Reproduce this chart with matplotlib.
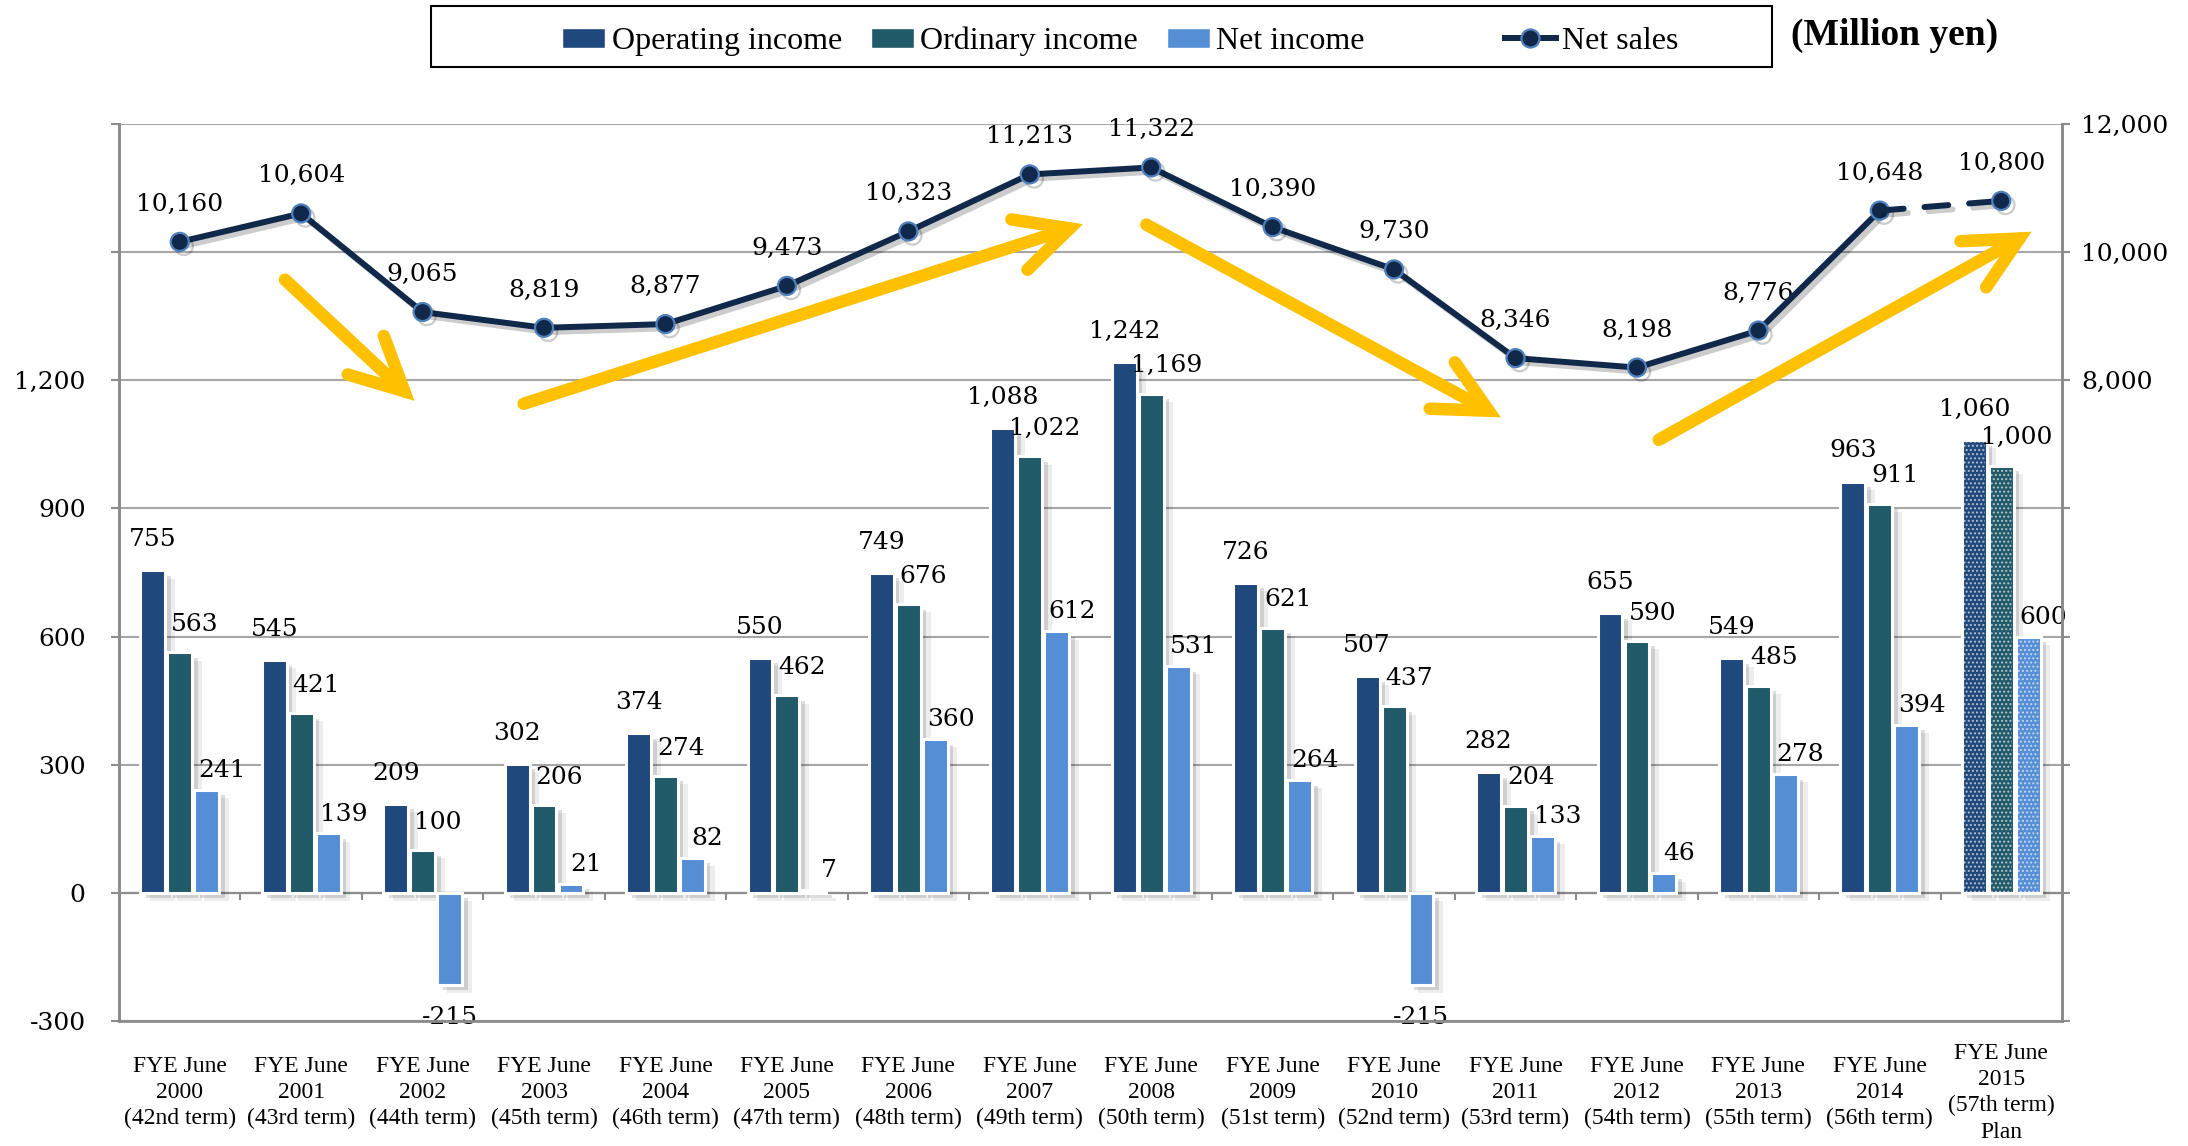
import matplotlib.pyplot as plt
import matplotlib.patheffects as pe
from matplotlib.patches import FancyArrowPatch, Rectangle, Patch
from matplotlib.lines import Line2D
import numpy as np

plt.rcParams['font.family'] = ['DejaVu Serif']

years = ["2000", "2001", "2002", "2003", "2004", "2005", "2006", "2007",
         "2008", "2009", "2010", "2011", "2012", "2013", "2014", "2015"]
terms = ["42nd", "43rd", "44th", "45th", "46th", "47th", "48th", "49th",
         "50th", "51st", "52nd", "53rd", "54th", "55th", "56th", "57th"]
operating = [755, 545, 209, 302, 374, 550, 749, 1088, 1242, 726, 507, 282, 655, 549, 963, 1060]
ordinary = [563, 421, 100, 206, 274, 462, 676, 1022, 1169, 621, 437, 204, 590, 485, 911, 1000]
net = [241, 139, -215, 21, 82, 7, 360, 612, 531, 264, -215, 133, 46, 278, 394, 600]
net_sales = [10160, 10604, 9065, 8819, 8877, 9473, 10323, 11213, 11322, 10390,
             9730, 8346, 8198, 8776, 10648, 10800]
# yellow trend arrows: (tail, head) in (category index, net sales) units
trend_arrows = [((0.85, 9600), (1.95, 7650)),
                ((2.81, 7620), (7.46, 10450)),
                ((7.94, 10450), (10.90, 7400)),
                ((12.16, 7050), (15.27, 10340))]

c_op = '#1F497D'
c_ord = '#215A68'
c_net = '#558ED5'
c_line = '#10284A'
c_grid = '#A6A6A6'

labels = []
for i, (y, t) in enumerate(zip(years, terms)):
    if i == len(years) - 1:
        labels.append("FYE June\n%s\n(%s term)\nPlan" % (y, t))
    else:
        labels.append("FYE June\n%s\n(%s term)" % (y, t))

fig = plt.figure(figsize=(21.88, 11.46), dpi=100)
ax = fig.add_axes([0.0544, 0.1091, 0.888, 0.7827])
ax2 = ax.twinx()

x = np.arange(len(years))
w = 0.205
step = 0.222
shadow = [pe.SimplePatchShadow(offset=(7, -6), shadow_rgbFace='k', alpha=0.07),
          pe.SimplePatchShadow(offset=(4, -4), shadow_rgbFace='k', alpha=0.13),
          pe.Normal()]

series = [(operating, c_op, -step), (ordinary, c_ord, 0), (net, c_net, step)]
for vals, col, off in series:
    ax.bar(x[:-1] + off, vals[:-1], w, color=col, edgecolor='white', linewidth=2.2,
           zorder=3, path_effects=shadow)
    # plan year: dotted fill
    ax.bar(x[-1] + off, vals[-1], w, color=col, edgecolor='white', linewidth=2.2,
           zorder=3, path_effects=shadow)
    ax.bar(x[-1] + off, vals[-1], w * 0.88, facecolor='none', edgecolor=(1, 1, 1, 0.6),
           hatch='....', linewidth=0, zorder=4)

# bar value labels
for i in range(len(x)):
    ax.annotate(f"{operating[i]:,}", (x[i] - step, operating[i]), xytext=(0, 22),
                textcoords='offset points', ha='center', va='center', fontsize=18, zorder=6)
    ax.annotate(f"{ordinary[i]:,}", (x[i], ordinary[i]), xytext=(11, 20),
                textcoords='offset points', ha='center', va='center', fontsize=18, zorder=6)
    if net[i] < 0:
        ax.annotate(f"{net[i]:,}", (x[i] + step, net[i]), xytext=(0, -24),
                    textcoords='offset points', ha='center', va='center', fontsize=18, zorder=6)
    else:
        ax.annotate(f"{net[i]:,}", (x[i] + step, net[i]), xytext=(11, 14),
                    textcoords='offset points', ha='center', va='center', fontsize=18, zorder=6)

ax.set_xlim(-0.5, len(x) - 0.5)
ax.set_ylim(-300, 1800)
left_ticks = np.arange(-300, 1801, 300)
ax.set_yticks(left_ticks)
ax.set_yticklabels([f"{v:,}" if v <= 1200 else "" for v in left_ticks])
ax.grid(axis='y', color=c_grid, lw=1.5, zorder=0)
ax.axhline(0, color='#8C8C8C', lw=1.6, zorder=2)
ax.vlines(x[:-1] + 0.5, -16, 0, color='#8C8C8C', lw=1.5, zorder=2)
ax.set_xticks([])
ax.tick_params(axis='y', length=6, width=1.5, color='#8C8C8C', labelsize=18, pad=18)

ax2.set_ylim(-2000, 12000)
right_ticks = np.arange(-2000, 12001, 2000)
ax2.set_yticks(right_ticks)
ax2.set_yticklabels([f"{v:,}" if v >= 8000 else "" for v in right_ticks])
ax2.tick_params(axis='y', length=6, width=1.5, color='#8C8C8C', labelsize=18, pad=8)

for a in (ax, ax2):
    for s in a.spines.values():
        s.set_color('#8C8C8C')
        s.set_linewidth(2)
    a.spines['top'].set_visible(False)
ax.spines['bottom'].set_color(c_grid)
ax.spines['bottom'].set_linewidth(1.5)

# net sales line
line_fx = [pe.SimpleLineShadow(offset=(3, -3), alpha=0.2), pe.Normal()]
ax2.plot(x[:-1], net_sales[:-1], color=c_line, lw=4.3, marker='o', ms=13,
         mfc=c_line, mec='#4F81BD', mew=1.6, zorder=5, path_effects=line_fx)
ax2.plot(x[-2:], net_sales[-2:], color=c_line, lw=4.3, dashes=(4, 3.5),
         dash_capstyle='round', marker='o', ms=13, markevery=[1],
         mfc=c_line, mec='#4F81BD', mew=1.6, zorder=5, path_effects=line_fx)
for i in range(len(x)):
    ax2.annotate(f"{net_sales[i]:,}", (x[i], net_sales[i]), xytext=(0, 27),
                 textcoords='offset points', ha='center', va='center', fontsize=18)

for tail, head in trend_arrows:
    arr = FancyArrowPatch(tail, head, arrowstyle='->,head_length=1.9,head_width=0.95',
                          mutation_scale=20, color='#FFC000', lw=9,
                          capstyle='round', joinstyle='miter', zorder=7)
    ax2.add_patch(arr)

# category labels
for i, lab in enumerate(labels):
    ax.text(x[i], -0.08, lab, transform=ax.get_xaxis_transform(), ha='center', va='center',
            fontsize=17, family='Liberation Serif', linespacing=1.32)

# legend
h_bars = [Patch(facecolor=c_op, edgecolor='white'), Patch(facecolor=c_ord, edgecolor='white'),
          Patch(facecolor=c_net, edgecolor='white')]
leg1 = fig.legend(h_bars, ["Operating income", "Ordinary income", "Net income"], ncol=3,
                  loc='center', bbox_to_anchor=(0.4404, 0.964), frameon=False,
                  prop={'family': 'Liberation Serif', 'size': 23}, handlelength=1.35,
                  handleheight=0.6, handletextpad=0.2, columnspacing=0.9)
h_line = [Line2D([0], [0], color=c_line, lw=4.3, marker='o', ms=13, mfc=c_line,
                 mec='#4F81BD', mew=1.6)]
leg2 = fig.legend(h_line, ["Net sales"], loc='center', bbox_to_anchor=(0.7274, 0.964),
                  frameon=False, prop={'family': 'Liberation Serif', 'size': 23},
                  handlelength=1.6, handletextpad=0.2)
fig.add_artist(Rectangle((431 / 2188, 1 - 67 / 1146), 1341 / 2188, 61 / 1146,
                         transform=fig.transFigure, fill=False, edgecolor='black', lw=1.5))
fig.text(0.866, 0.9695, "(Million yen)", ha='center', va='center', fontsize=27,
         fontweight='bold', family='Liberation Serif')

fig.savefig('out.png', dpi=100)
